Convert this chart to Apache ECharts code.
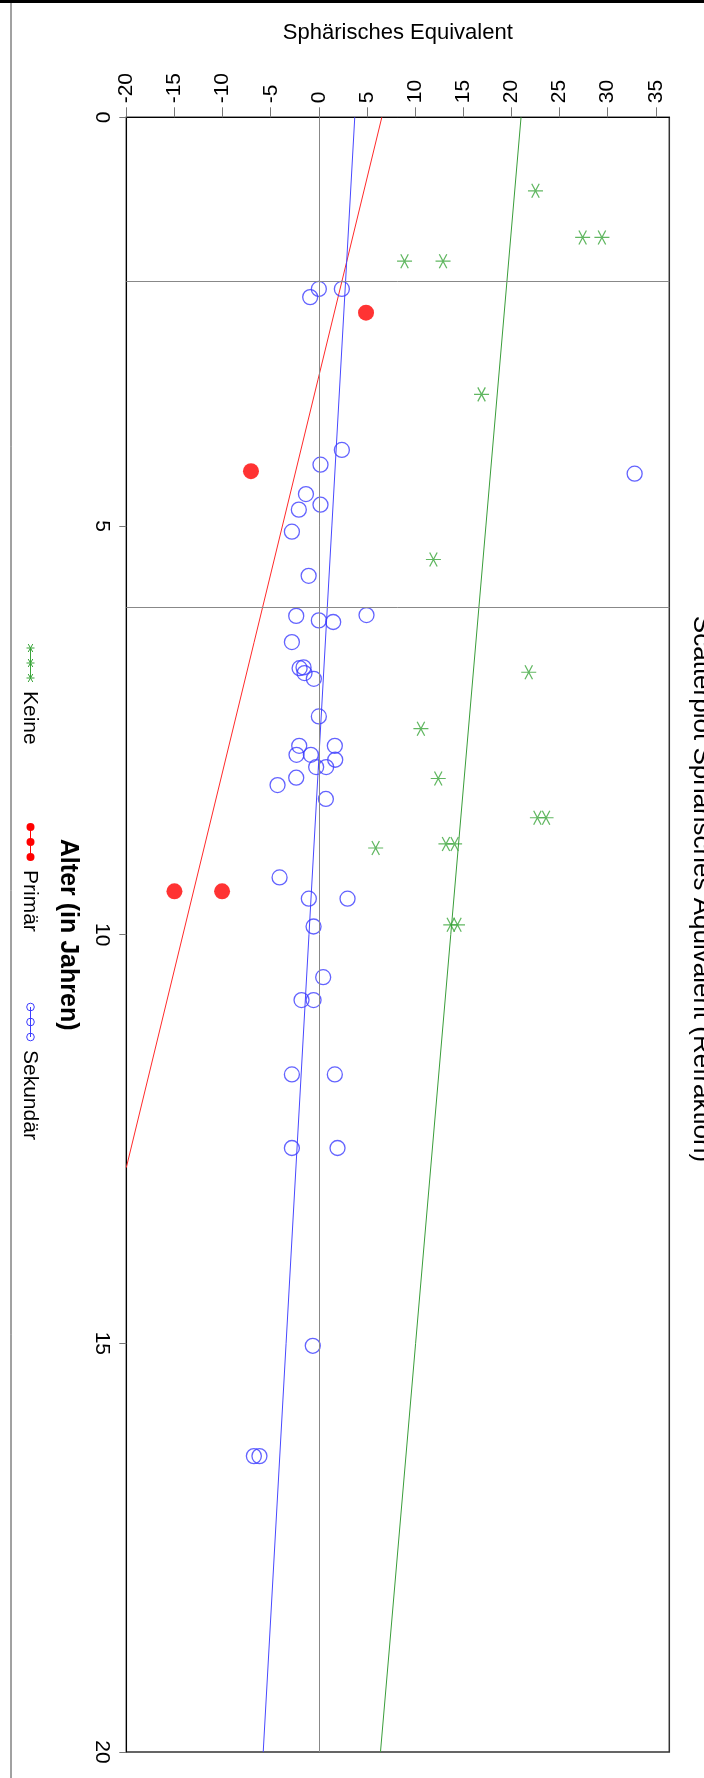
<!DOCTYPE html>
<html>
<head>
<meta charset="utf-8">
<script src="https://cdn.jsdelivr.net/npm/echarts@6/dist/echarts.min.js"></script>
<style>
html,body{margin:0;padding:0;background:#fff;}
#c{width:704px;height:1778px;}
</style>
</head>
<body>
<div id="c"></div>
<script>
// ---- data ----
const seTicks = [-20, -15, -10, -5, 0, 5, 10, 15, 20, 25, 30, 35];
const ageTicks = [0, 5, 10, 15, 20];
const refLinesAge = [2, 6];
const refLinesSE = [0];

const keineSE  = [22.5, 27.4, 29.4, 8.9, 12.9, 16.9, 11.9, 21.8, 10.6, 12.4, 22.7, 23.6, 5.9, 13.2, 14.1, 13.7, 14.4];
const keineAge = [0.90, 1.47, 1.47, 1.76, 1.76, 3.39, 5.41, 6.79, 7.48, 8.09, 8.57, 8.57, 8.94, 8.89, 8.89, 9.88, 9.88];

const primarSE  = [4.9, -7.05, -15.0, -10.05];
const primarAge = [2.39, 4.33, 9.47, 9.47];

const sekundarSE  = [0, 2.39, -0.9, 2.39, 0.17, 32.8, -1.34, 0.17, -2.08, -2.8, -1.06,
  -2.35, 0, 1.49, 4.95, -2.8, -2.0, -1.59, -1.49, -0.52, 0, -2.04, 1.66, -2.32, -0.83, 1.70, -0.28, 0.76, -2.35, -4.29, 0.73,
  -4.08, -1.04, 2.98, -0.55, 0.45, -1.80, -0.55,
  -2.80, 1.66, -2.80, 1.94,
  -0.63, -6.75, -6.17];
const sekundarAge = [2.10, 2.10, 2.20, 4.07, 4.25, 4.36, 4.61, 4.74, 4.80, 5.07, 5.61,
  6.10, 6.155, 6.175, 6.09, 6.42, 6.74, 6.73, 6.80, 6.87, 7.33, 7.69, 7.69, 7.80, 7.80, 7.86, 7.95, 7.95, 8.08, 8.17, 8.34,
  9.30, 9.56, 9.56, 9.90, 10.52, 10.80, 10.80,
  11.71, 11.71, 12.61, 12.61,
  15.03, 16.38, 16.38];

// fitted regression lines (endpoints)
const keineFitSE = [21.0, 6.4],      keineFitAge = [0, 20];
const primarFitSE = [6.54, -20],     primarFitAge = [0, 12.85];
const sekundarFitSE = [3.73, -5.78], sekundarFitAge = [0, 20];

const legendNames = ['Keine', 'Primär', 'Sekundär'];
const titleText = 'Scatterplot Sphärisches Äquivalent (Refraktion)';
const xName = 'Sphärisches Equivalent';
const yName = 'Alter (in Jahren)';

// ---- styles ----
const F = '"Liberation Sans", Arial, Helvetica, sans-serif';
const GREEN = '#3aa53a', RED = '#ff0000', BLUE = '#3c3cff';
const GREEN_L = '#3a9d3a', RED_L = '#ff2a2a', BLUE_L = '#4848ff';
const ASTER = 'path://M0,7L14,7M3.5,0.9L10.5,13.1M10.5,0.9L3.5,13.1';

const zip = (a, b) => a.map((v, i) => [v, b[i]]);

const chart = echarts.init(document.getElementById('c'), null, {renderer: 'canvas'});

// legend drawn as rotated graphic (legend in reference is rotated 90deg)
function legendItem(idx, y0) {
  const x = 30.5;
  const els = [];
  const ys = [y0, y0 + 15, y0 + 30];
  els.push({type: 'line', shape: {x1: x, y1: y0, x2: x, y2: y0 + 30},
    style: {stroke: [GREEN, RED, BLUE][idx], lineWidth: 1}, silent: true});
  ys.forEach(yy => {
    if (idx === 0) {
      els.push({type: 'line', shape: {x1: x - 4, y1: yy, x2: x + 4, y2: yy}, style: {stroke: GREEN, lineWidth: 1}});
      els.push({type: 'line', shape: {x1: x - 2.3, y1: yy - 4, x2: x + 2.3, y2: yy + 4}, style: {stroke: GREEN, lineWidth: 1}});
      els.push({type: 'line', shape: {x1: x + 2.3, y1: yy - 4, x2: x - 2.3, y2: yy + 4}, style: {stroke: GREEN, lineWidth: 1}});
    } else if (idx === 1) {
      els.push({type: 'circle', shape: {cx: x, cy: yy, r: 4}, style: {fill: RED}});
    } else {
      els.push({type: 'circle', shape: {cx: x, cy: yy, r: 3.8}, style: {fill: 'none', stroke: BLUE, lineWidth: 1}});
    }
  });
  els.push({type: 'text', x: x - 1, y: y0 + 43, rotation: -Math.PI / 2,
    style: {text: legendNames[idx], font: '21px ' + F, fill: '#000', textAlign: 'left', textVerticalAlign: 'middle'}});
  return els;
}

const graphics = [
  {type: 'rect', shape: {x: 0, y: 0, width: 704, height: 3}, style: {fill: '#000'}, silent: true},
  {type: 'line', shape: {x1: 11, y1: 3, x2: 11, y2: 1778}, style: {stroke: '#444', lineWidth: 1}, silent: true},
  {type: 'text', x: 701, y: 889, rotation: -Math.PI / 2,
    style: {text: titleText, font: '26px ' + F, fill: '#000', textAlign: 'center', textVerticalAlign: 'middle'}}
].concat(legendItem(0, 648), legendItem(1, 827), legendItem(2, 1007));

const option = {
  animation: false,
  backgroundColor: '#fff',
  textStyle: {fontFamily: F},
  grid: {left: 126.3, right: 34.7, top: 117.3, bottom: 26, show: true, borderColor: '#333', borderWidth: 1.5,
         containLabel: false, outerBoundsMode: 'none'},
  xAxis: {
    type: 'value', position: 'top', min: -20, max: 36.4,
    name: xName, nameLocation: 'middle', nameGap: 73,
    nameTextStyle: {fontSize: 22, color: '#000', fontFamily: F},
    axisLine: {show: true, onZero: false, lineStyle: {color: '#000', width: 1}},
    axisTick: {show: true, inside: false, length: 10, customValues: seTicks, lineStyle: {color: '#777'}},
    axisLabel: {show: true, customValues: seTicks, rotate: -90, margin: 14, fontSize: 21, color: '#000', fontFamily: F},
    splitLine: {show: false}
  },
  yAxis: {
    type: 'value', inverse: true, min: 0, max: 20, interval: 5,
    name: yName, nameLocation: 'middle', nameGap: 46, nameRotate: -90,
    nameTextStyle: {fontSize: 25, fontWeight: 'bold', color: '#000', fontFamily: F},
    axisLine: {show: true, onZero: false, lineStyle: {color: '#000', width: 1}},
    axisTick: {show: true, inside: false, length: 7, customValues: ageTicks, lineStyle: {color: '#777'}},
    axisLabel: {show: true, customValues: ageTicks, rotate: -90, margin: 14, fontSize: 21, color: '#000', fontFamily: F},
    splitLine: {show: false}
  },
  series: [
    {
      name: 'ref', type: 'line', data: [], silent: true,
      markLine: {
        silent: true, symbol: ['none', 'none'], label: {show: false},
        lineStyle: {color: '#888', width: 1, type: 'solid'},
        data: refLinesSE.map(v => ({xAxis: v})).concat(refLinesAge.map(v => ({yAxis: v})))
      }
    },
    {name: 'Keine Fit', type: 'line', data: zip(keineFitSE, keineFitAge), symbol: 'none', silent: true,
      lineStyle: {color: GREEN_L, width: 1}, z: 3},
    {name: 'Primär Fit', type: 'line', data: zip(primarFitSE, primarFitAge), symbol: 'none', silent: true,
      lineStyle: {color: RED_L, width: 1}, z: 3},
    {name: 'Sekundär Fit', type: 'line', data: zip(sekundarFitSE, sekundarFitAge), symbol: 'none', silent: true,
      lineStyle: {color: BLUE_L, width: 1}, z: 3},
    {name: 'Keine', type: 'scatter', data: zip(keineSE, keineAge), symbol: ASTER, symbolSize: [15, 14],
      itemStyle: {color: 'rgba(0,0,0,0)', borderColor: GREEN, borderWidth: 1.2}, z: 4},
    {name: 'Primär', type: 'scatter', data: zip(primarSE, primarAge), symbol: 'circle', symbolSize: 16,
      itemStyle: {color: RED}, z: 4},
    {name: 'Sekundär', type: 'scatter', data: zip(sekundarSE, sekundarAge), symbol: 'circle', symbolSize: 15,
      itemStyle: {color: 'rgba(0,0,0,0)', borderColor: BLUE, borderWidth: 1.3}, z: 4}
  ],
  graphic: graphics
};
chart.setOption(option);
</script>
</body>
</html>
